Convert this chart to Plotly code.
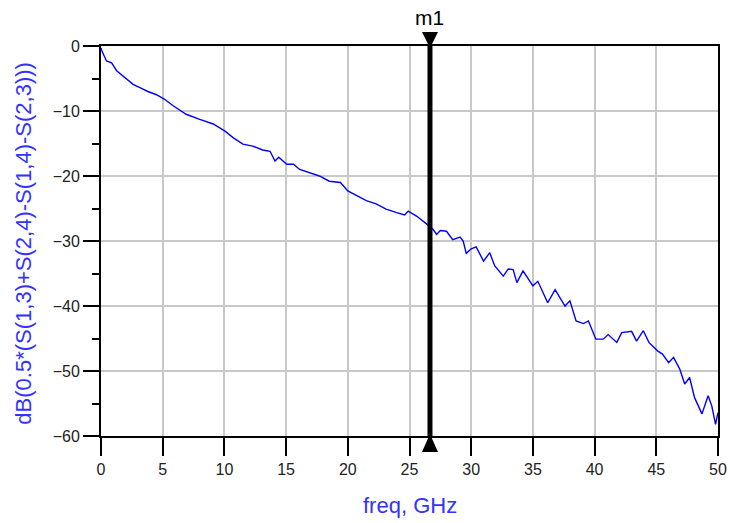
import plotly.graph_objects as go

# Data
freq = [0.0, 0.1, 0.45, 0.86, 1.27, 1.8, 2.6, 3.15, 3.8, 4.5, 5.15, 5.85, 6.9, 8.0, 9.1,
        10.05, 10.7, 11.5, 12.3, 13.1, 13.7, 14.1, 14.4, 15.05, 15.6, 16.1, 17.2, 17.7,
        18.5, 19.4, 20.0, 21.0, 21.5, 22.3, 23.1, 23.9, 24.6, 24.9, 25.6, 26.4, 26.9,
        27.2, 27.5, 28.0, 28.5, 29.1, 29.35, 29.6, 30.0, 30.4, 31.0, 31.5, 31.9, 32.6,
        33.0, 33.4, 33.7, 34.2, 35.0, 35.4, 36.2, 36.8, 37.6, 38.0, 38.5, 39.1, 39.5,
        40.1, 40.7, 41.1, 41.8, 42.2, 43.0, 43.4, 43.95, 44.4, 45.1, 45.5, 46.0, 46.4,
        46.9, 47.3, 47.7, 48.1, 48.7, 49.2, 49.5, 49.8, 50.0]
db = [-0.3, -0.9, -2.3, -2.6, -3.8, -4.6, -5.9, -6.4, -7.0, -7.5, -8.2, -9.2, -10.5, -11.3,
      -12.0, -13.1, -14.1, -15.1, -15.4, -16.0, -16.2, -17.7, -17.1, -18.2, -18.2, -19.0,
      -19.7, -20.0, -20.8, -21.0, -22.3, -23.3, -23.8, -24.3, -25.1, -25.6, -26.0, -25.4,
      -26.2, -27.4, -28.2, -29.0, -28.4, -28.5, -29.8, -29.4, -30.0, -31.9, -31.2, -30.9,
      -33.1, -31.8, -33.8, -35.4, -34.3, -34.4, -36.4, -34.6, -36.9, -36.2, -39.5, -37.5,
      -40.0, -39.2, -42.3, -42.7, -42.3, -45.1, -45.1, -44.4, -45.6, -44.1, -43.9, -45.4,
      -43.8, -45.6, -46.9, -47.4, -48.7, -47.9, -49.7, -52.0, -51.0, -54.1, -56.6, -53.8,
      -55.4, -58.2, -56.4]
marker_freq = 26.66
marker_name = "m1"
x_ticks = [0, 5, 10, 15, 20, 25, 30, 35, 40, 45, 50]
y_ticks = [0, -10, -20, -30, -40, -50, -60]
x_range = [0, 50]
y_range = [-60, 0]

FONT = "Liberation Sans, Arial, sans-serif"

fig = go.Figure()
fig.add_trace(go.Scatter(x=freq, y=db, mode="lines",
                         line=dict(color="#0000ff", width=1.4), showlegend=False))
# marker line
fig.add_trace(go.Scatter(x=[marker_freq, marker_freq], y=y_range, mode="lines",
                         line=dict(color="black", width=5), showlegend=False))

# marker triangles (pixel-sized, paper-referenced so they are not clipped)
marker_paper_x = (marker_freq - x_range[0]) / (x_range[1] - x_range[0])
fig.add_shape(type="path", xref="paper", yref="paper", xsizemode="pixel",
              ysizemode="pixel", xanchor=marker_paper_x, yanchor=1,
              path="M -8 14 L 8 14 L 0 -2 Z", fillcolor="black", line=dict(width=0))
fig.add_shape(type="path", xref="paper", yref="paper", xsizemode="pixel",
              ysizemode="pixel", xanchor=marker_paper_x, yanchor=0,
              path="M -8 -16 L 8 -16 L 0 2 Z", fillcolor="black", line=dict(width=0))

fig.add_annotation(x=marker_freq, y=1, xref="x", yref="paper", text=marker_name,
                   showarrow=False, yanchor="bottom", yshift=15,
                   font=dict(family=FONT, size=21, color="black"))

fig.add_annotation(x=-0.127, y=0.5, xref="paper", yref="paper", xanchor="center",
                   yanchor="middle", yshift=-2,
                   text="dB(0.5*(S(1,3)+S(2,4)-S(1,4)-S(2,3)))", textangle=-90,
                   showarrow=False,
                   font=dict(family=FONT, size=22, color="#3333ff"))

fig.add_annotation(x=0.5, y=0, xref="paper", yref="paper", xanchor="center",
                   yanchor="top", yshift=-55, text="freq, GHz", showarrow=False,
                   font=dict(family=FONT, size=22, color="#3333ff"))

fig.update_layout(
    width=730, height=523,
    margin=dict(l=101, r=12, t=46, b=87, autoexpand=False),
    paper_bgcolor="white", plot_bgcolor="white",
    font=dict(family=FONT, size=16, color="#222222"),
    xaxis=dict(range=x_range, tickvals=x_ticks, showgrid=True, gridcolor="#c8c8c8",
               gridwidth=2, showline=True, linecolor="black", linewidth=2, mirror=True,
               ticks="outside", ticklen=18, tickwidth=2, tickcolor="black", zeroline=False,
               automargin=False),
    yaxis=dict(range=y_range, tickvals=y_ticks, showgrid=True, gridcolor="#c8c8c8",
               gridwidth=2, showline=True, linecolor="black", linewidth=2, mirror=True,
               ticks="outside", ticklen=16, tickwidth=2, tickcolor="black", zeroline=False,
               automargin=False,
               minor=dict(dtick=5, tick0=0, ticks="outside", ticklen=7, tickwidth=2,
                          tickcolor="black", showgrid=False)),
)

fig.write_html("out.html")
